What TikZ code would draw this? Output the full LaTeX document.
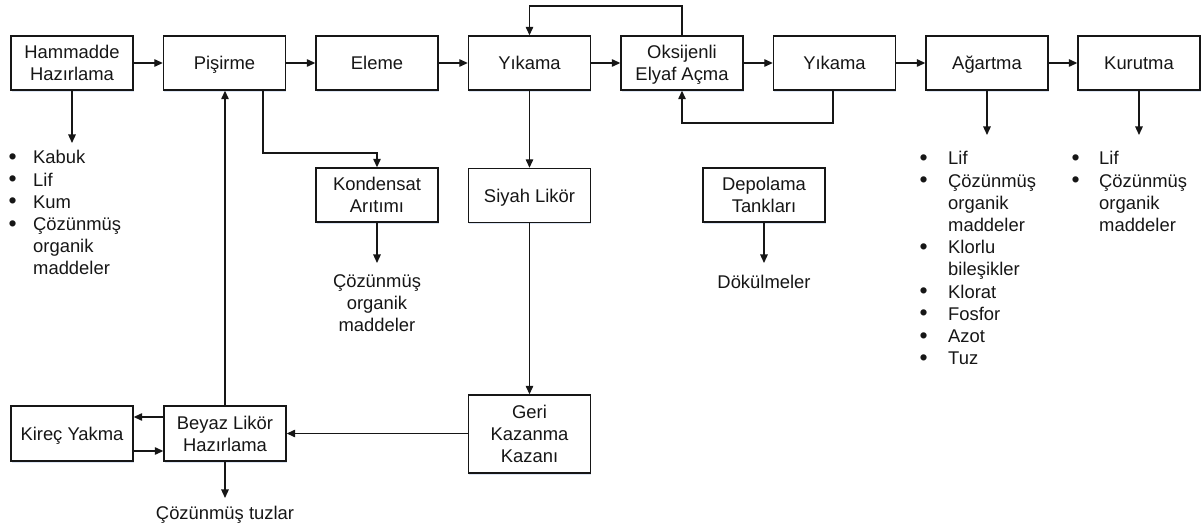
\documentclass[tikz,border=0pt]{standalone}
\usepackage{fontspec}
\setmainfont{Liberation Sans}
\usetikzlibrary{arrows.meta,shadows}
\definecolor{ink}{HTML}{161616}
\definecolor{glow}{HTML}{C4D4EC}
% bullet set in a fixed-width slot
\newcommand{\bul}[1]{\makebox[#1][l]{\raisebox{-0.6pt}{\scalebox{1.25}{\textbullet}}}}
\begin{document}
\begin{tikzpicture}[x=1pt,y=-1pt,
  txt/.style={font=\fontsize{18.4}{22.2}\selectfont, text=ink},
  box/.style={txt, draw=ink, line width=1.4pt, fill=white, minimum width=122pt,
    minimum height=54pt, align=center, inner sep=1pt, text depth=0pt,
    drop shadow={shadow xshift=0.8pt, shadow yshift=-1.6pt, fill=glow, opacity=0.6}},
  lbl/.style={txt, align=center, inner sep=0pt},
  lst/.style={txt, inner sep=0pt, anchor=base west},
  arr/.style={draw=ink, line width=1.3pt, -{Triangle[length=8.5pt,width=7.5pt]}}]
\useasboundingbox (0,0) rectangle (1203,526);

% main process line
\node[box] (ham)  at (72,63)    {Hammadde\\Hazırlama};
\node[box] (pis)  at (224.5,63) {Pişirme};
\node[box] (ele)  at (377,63)   {Eleme};
\node[box] (yk1)  at (529.5,63) {Yıkama};
\node[box] (oks)  at (682,63)   {Oksijenli\\Elyaf Açma};
\node[box] (yk2)  at (834.5,63) {Yıkama};
\node[box] (aga)  at (987,63)   {Ağartma};
\node[box] (kur)  at (1139,63)  {Kurutma};

% secondary units
\node[box] (kon)  at (377,195)  {Kondensat\\Arıtımı};
\node[box] (siy)  at (529.5,195.5) {Siyah Likör};
\node[box] (dep)  at (764,195)  {Depolama\\Tankları};
\node[box, minimum height=78pt] (ger) at (529.5,434) {Geri\\Kazanma\\Kazanı};
\node[box, minimum height=55pt] (bey) at (225,433.5) {Beyaz Likör\\Hazırlama};
\node[box, minimum height=55pt] (kir) at (72,433.5)  {Kireç Yakma};

% main flow
\draw[arr] (ham) -- (pis);
\draw[arr] (pis) -- (ele);
\draw[arr] (ele) -- (yk1);
\draw[arr] (yk1) -- (oks);
\draw[arr] (oks) -- (yk2);
\draw[arr] (yk2) -- (aga);
\draw[arr] (aga) -- (kur);

% wash return loops
\coordinate (topy) at (0,6);
\coordinate (boty) at (0,123);
\draw[arr] (oks.north) -- (oks.north |- topy) -| (yk1.north);
\draw[arr] ([xshift=-1.5pt]yk2.south) -- ([xshift=-1.5pt]yk2.south |- boty) -| (oks.south);

% condensate branch
\coordinate (kony) at (0,153);
\draw[arr] ([xshift=38.5pt]pis.south) |- (kon.north |- kony) -- (kon.north);

% liquor cycle
\draw[arr] (yk1) -- (siy);
\draw[arr] (siy) -- (ger);
\draw[arr] (ger.west |- bey) -- (bey);
\draw[arr] (bey.north) -- (bey.north |- pis.south);
\draw[arr] ([yshift=16.5pt]bey.west) -- ([yshift=16.5pt]kir.east);
\draw[arr] ([yshift=-17.5pt]kir.east) -- ([yshift=-17.5pt]bey.west);

% discharge arrows
\coordinate (hamo) at (72,143);
\coordinate (kono) at (377,263);
\coordinate (depo) at (764,263);
\coordinate (agao) at (987,135);
\coordinate (kuro) at (1139,135);
\coordinate (beyo) at (225,498);
\draw[arr] (ham.south) -- (hamo);
\draw[arr] (kon.south) -- (kono);
\draw[arr] (dep.south) -- (depo);
\draw[arr] (aga.south) -- (agao);
\draw[arr] (kur.south) -- (kuro);
\draw[arr] (bey.south) -- (beyo);

% discharge labels
\node[lbl] (konl) at (377,303) {Çözünmüş\\organik\\maddeler};
\node[lbl] (depl) at (764,282) {Dökülmeler};
\node[lbl] (beyl) at (225,515) {Çözünmüş tuzlar};

\node[lst] (haml) at (8.5,164) {\begin{tabular}[t]{@{}l@{}l@{}}
  \bul{24.5pt}&Kabuk\\ \bul{24.5pt}&Lif\\ \bul{24.5pt}&Kum\\
  \bul{24.5pt}&Çözünmüş\\ &organik\\ &maddeler\end{tabular}};
\node[lst] (agal) at (919.5,165) {\begin{tabular}[t]{@{}l@{}l@{}}
  \bul{28.5pt}&Lif\\ \bul{28.5pt}&Çözünmüş\\ &organik\\ &maddeler\\
  \bul{28.5pt}&Klorlu\\ &bileşikler\\ \bul{28.5pt}&Klorat\\
  \bul{28.5pt}&Fosfor\\ \bul{28.5pt}&Azot\\ \bul{28.5pt}&Tuz\end{tabular}};
\node[lst] (kurl) at (1071.5,165) {\begin{tabular}[t]{@{}l@{}l@{}}
  \bul{27.5pt}&Lif\\ \bul{27.5pt}&Çözünmüş\\ &organik\\ &maddeler\end{tabular}};
\end{tikzpicture}
\end{document}
